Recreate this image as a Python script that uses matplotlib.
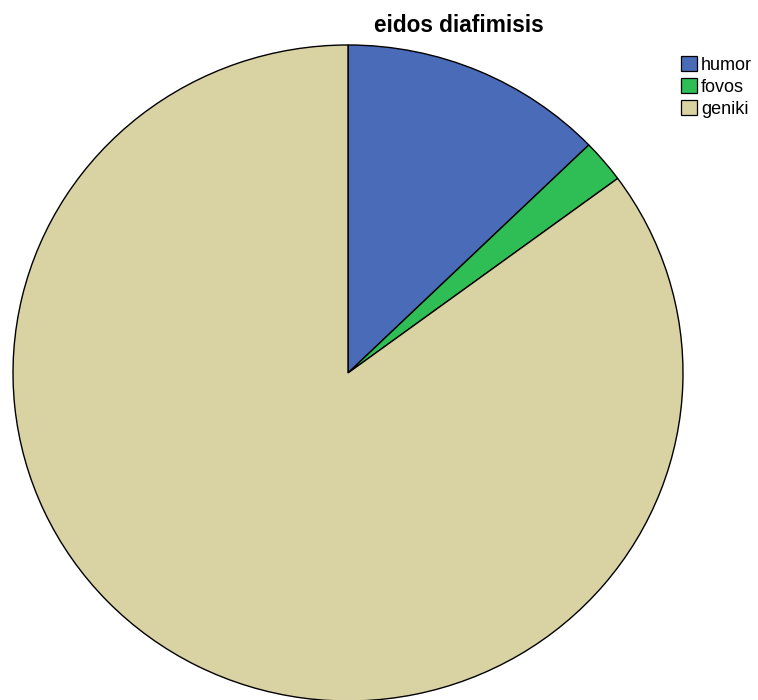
import matplotlib
matplotlib.use("Agg")
import matplotlib.pyplot as plt
from matplotlib.patches import Patch

labels = ["humor", "fovos", "geniki"]
counts = [6, 1, 40]
colors = ["#4a6bb8", "#2fbe55", "#d9d3a4"]

fig = plt.figure(figsize=(7.58, 7.00), dpi=100)
plt.rcParams["font.family"] = ["Liberation Sans", "DejaVu Sans"]

# pie area in pixel terms: x 12..684, y 44..702 (from top)
W, H = 758, 700
ax = fig.add_axes([12 / W, (H - 702) / H, 672 / W, 658 / H])
ax.pie(counts, colors=colors, startangle=90, counterclock=False, radius=1,
       wedgeprops=dict(edgecolor="black", linewidth=1.0))
ax.set_xlim(-1.003, 1.003)
ax.set_ylim(-1.003, 1.003)
ax.set_aspect("auto")
ax.axis("off")

fig.text(459 / W, 1 - 26 / H, "eidos diafimisis", ha="center", va="center",
         fontsize=16.3, fontweight="bold")

handles = [Patch(facecolor=c, edgecolor="black", linewidth=0.9) for c in colors]
fig.legend(handles, labels, loc="upper left", bbox_to_anchor=(681 / W, 1 - 56 / H),
           frameon=False, fontsize=13, handlelength=0.9, handleheight=0.9,
           handletextpad=0.2, labelspacing=0.25, borderpad=0.0, borderaxespad=0.0)

fig.savefig("out.png", dpi=100)
